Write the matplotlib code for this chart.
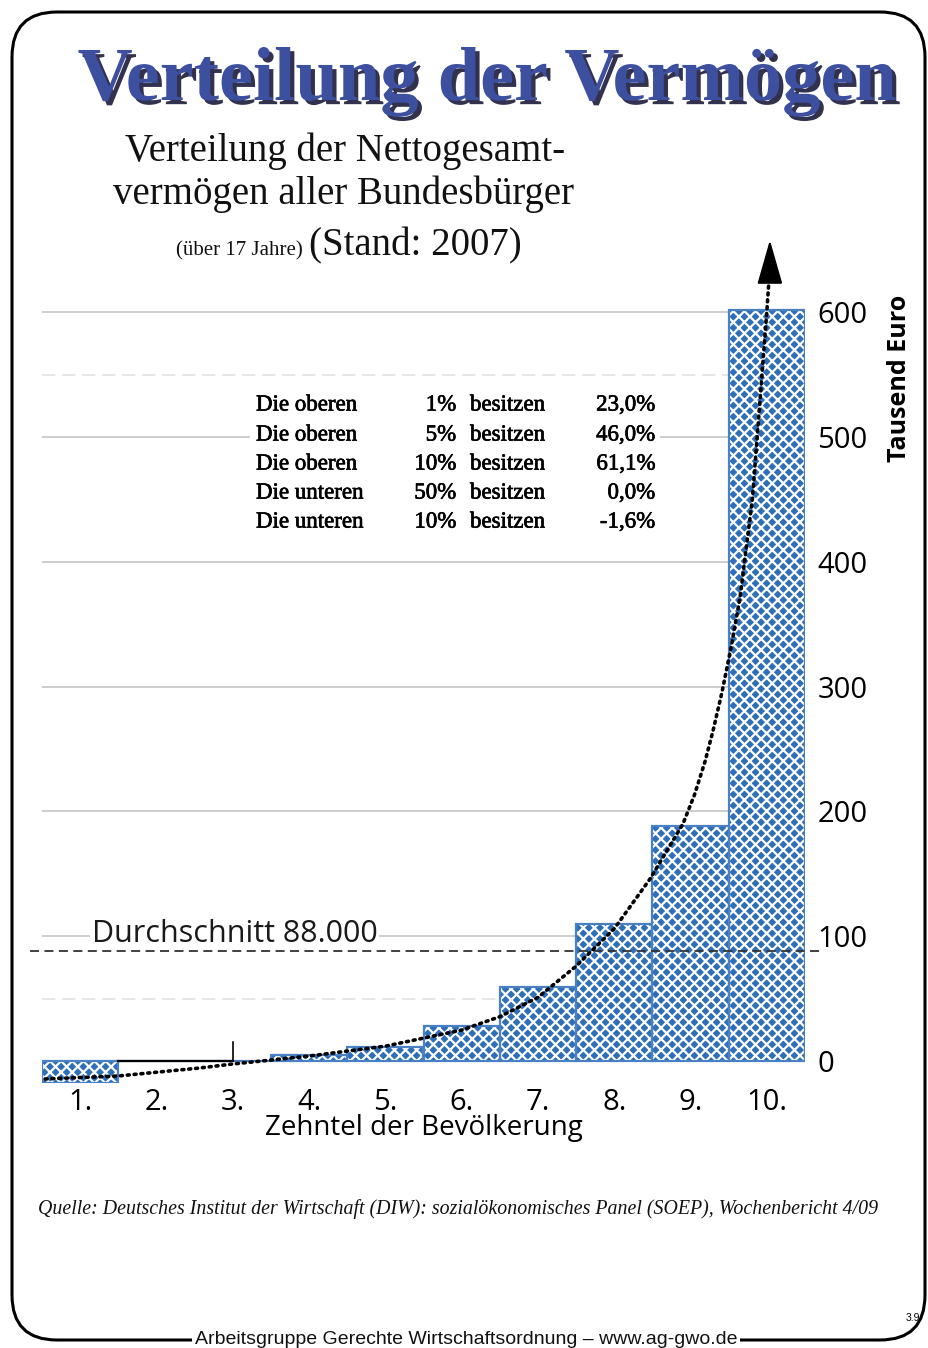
import matplotlib
matplotlib.use("Agg")
import matplotlib.pyplot as plt
import matplotlib.patheffects as pe
from matplotlib.patches import Rectangle, FancyBboxPatch, FancyArrowPatch
from matplotlib.transforms import IdentityTransform

# ---------------- data ----------------
deciles = [1, 2, 3, 4, 5, 6, 7, 8, 9, 10]
decile_labels = ["1.", "2.", "3.", "4.", "5.", "6.", "7.", "8.", "9.", "10."]
wealth = [-17.5, 0, 0, 5, 11, 28, 59, 110, 188, 602]   # Tausend Euro
mean_value = 88
y_ticks = [0, 100, 200, 300, 400, 500, 600]
grid_solid = [100, 200, 300, 400, 500, 600]
grid_faint = [50, 550]

# trend curve (decile position, Tausend Euro)
trend_x = [0.54, 1.5, 2.57, 3.0, 4.01, 5.01, 6.0, 6.5, 7.0, 7.5, 8.0, 8.47,
           8.9, 9.05, 9.19, 9.3, 9.41, 9.53, 9.65, 9.81, 9.91, 10.0, 10.04]
trend_y = [-14.4, -12.0, -5.6, -2.4, 4.0, 12.0, 24.8, 35.5, 51, 76, 106,
           146, 190, 213, 240, 266, 295, 331, 372, 450, 529, 601, 637]
arrow_tip = 660

table_rows = [
    ("Die oberen", "1%", "besitzen", "23,0%"),
    ("Die oberen", "5%", "besitzen", "46,0%"),
    ("Die oberen", "10%", "besitzen", "61,1%"),
    ("Die unteren", "50%", "besitzen", "0,0%"),
    ("Die unteren", "10%", "besitzen", "-1,6%"),
]

W, H = 929, 1348
def fx(px): return px / W
def fy(py): return 1 - py / H

plt.rcParams['hatch.linewidth'] = 1.6
fig = plt.figure(figsize=(W / 100, H / 100), dpi=100)

# axes geometry (pixels): x 42..805, y(0)=1061, 1.248 px per unit
ylo, yhi = -18, 680
ppu = 1.248
ax_bottom_px = 1061 + (-ylo) * ppu
ax_top_px = 1061 - yhi * ppu
ax = fig.add_axes([fx(42), fy(ax_bottom_px), (805 - 42) / W, (ax_bottom_px - ax_top_px) / H])
ax.set_xlim(0.5, 10.5)
ax.set_ylim(ylo, yhi)
for s in ax.spines.values():
    s.set_visible(False)

# grid lines
for g in grid_solid:
    ax.plot([0.5, 10.5], [g, g], color='#c9c9c9', lw=1.3, zorder=1)
for g in grid_faint:
    ax.plot([0.5, 10.5], [g, g], color='#e2e2e2', lw=1.2, ls=(0, (8, 4)), zorder=1)

# bars: hatched fill then outline
ax.bar(deciles, wealth, width=1.0, color='#2f6fb8', edgecolor='white', hatch='xxx',
       linewidth=0, zorder=3)
ax.bar(deciles, wealth, width=1.0, fill=False, edgecolor='#4a80c4', linewidth=1.6, zorder=4)

# small artifacts near deciles 2-3
ax.plot([1.5, 3.0], [0, 0], color='black', lw=1.6, zorder=4)
ax.plot([3.0, 3.0], [0, 15], color='black', lw=1.2, zorder=4)

# mean dashed line
ax.plot([0.345, 10.70], [mean_value, mean_value], color='#333333', lw=1.3,
        ls=(0, (5, 3)), zorder=5, clip_on=False)
ax.text(1.15, 102, "Durchschnitt 88.000", fontsize=22, family='Open Sans',
        va='center', ha='left', color='#1a1a1a', zorder=6,
        bbox=dict(facecolor='white', edgecolor='none', pad=1))

# white area behind the table (breaks grid lines)
ax.add_patch(Rectangle((3.23, 421), 8.6 - 3.23, 538 - 421, facecolor='white',
                       edgecolor='none', zorder=2))

# trend curve + arrow
ax.plot(trend_x, trend_y, color='black', lw=2.6, ls=(0, (0.55, 1.35)),
        dash_capstyle='round', zorder=7, clip_on=False)
arr = FancyArrowPatch((trend_x[-1], trend_y[-1] - 4), (trend_x[-1], arrow_tip),
                      arrowstyle='-|>,head_length=1.4,head_width=0.4',
                      mutation_scale=20, color='black', lw=1.5, zorder=8,
                      clip_on=False)
ax.add_patch(arr)

# ticks
ax.set_xticks(deciles)
ax.set_xticklabels(decile_labels, fontsize=21, family='Open Sans')
ax.tick_params(axis='x', length=0, pad=3)
ax.yaxis.tick_right()
ax.set_yticks(y_ticks)
ax.set_yticklabels([str(v) for v in y_ticks], fontsize=21, family='Open Sans')
ax.tick_params(axis='y', length=0, pad=9)
ax.set_xlabel("Zehntel der Bevölkerung", fontsize=20, family='Open Sans', labelpad=-2)

fig.text(fx(900), fy(378), "Tausend Euro", rotation=90, ha='center', va='center',
         fontsize=18, family='Open Sans', fontweight='bold')

# table
row_y = [405, 435, 464, 493, 522]
tab_pe = [pe.withStroke(linewidth=0.5, foreground='black')]
for (a, b, c, d), py in zip(table_rows, row_y):
    kw = dict(fontsize=16.5, family='Liberation Serif', va='center', color='black',
              path_effects=tab_pe)
    fig.text(fx(256), fy(py), a, ha='left', **kw)
    fig.text(fx(456), fy(py), b, ha='right', **kw)
    fig.text(fx(470), fy(py), c, ha='left', **kw)
    fig.text(fx(655), fy(py), d, ha='right', **kw)

# title
fig.text(fx(487), fy(100), "Verteilung der Vermögen", ha='center', va='baseline',
         fontsize=55, fontweight='bold', family='Liberation Serif', color='#3d4f9f',
         path_effects=[pe.SimplePatchShadow(offset=(3, -3), shadow_rgbFace='#1c1c3c', alpha=0.9),
                       pe.Normal()])

# subtitle
sub_kw = dict(family='Liberation Serif', color='#111111', va='baseline')
fig.text(fx(345), fy(161), "Verteilung der Nettogesamt-", ha='center', fontsize=28, **sub_kw)
fig.text(fx(344), fy(204), "vermögen aller Bundesbürger", ha='center', fontsize=28, **sub_kw)
fig.text(fx(303), fy(255), "(über 17 Jahre)", ha='right', fontsize=15, **sub_kw)
fig.text(fx(309), fy(255), "(Stand: 2007)", ha='left', fontsize=28, **sub_kw)

# source
fig.text(fx(38), fy(1214), "Quelle: Deutsches Institut der Wirtschaft (DIW): sozialökonomisches Panel (SOEP), Wochenbericht 4/09",
         ha='left', va='baseline', fontsize=14.3, family='Liberation Serif', style='italic',
         color='#111111')

# frame
frame = FancyBboxPatch((12, 8), 925 - 12, 1336 - 8, boxstyle='round,pad=0,rounding_size=45',
                       transform=IdentityTransform(), facecolor='none', edgecolor='black',
                       linewidth=2.2, zorder=0)
fig.add_artist(frame)
fig.text(fx(466), fy(1340), "Arbeitsgruppe Gerechte Wirtschaftsordnung – www.ag-gwo.de",
         ha='center', va='center', fontsize=14, family='Liberation Sans', color='#111111',
         bbox=dict(facecolor='white', edgecolor='none', pad=2), zorder=5)
fig.text(fx(913), fy(1318), "3.9", ha='center', va='center', fontsize=7.5,
         family='Liberation Sans')

fig.savefig("out.png", dpi=100)
